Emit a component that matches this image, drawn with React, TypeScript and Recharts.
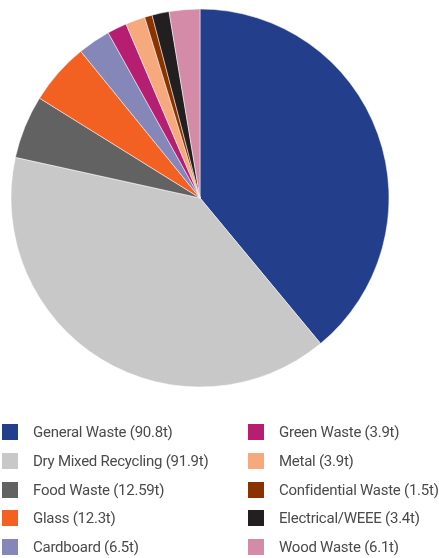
import { PieChart, Pie, Cell } from 'recharts';

const categories = [
  'General Waste',
  'Dry Mixed Recycling',
  'Food Waste',
  'Glass',
  'Cardboard',
  'Green Waste',
  'Metal',
  'Confidential Waste',
  'Electrical/WEEE',
  'Wood Waste',
];
const tonnes = [90.8, 91.9, 12.59, 12.3, 6.5, 3.9, 3.9, 1.5, 3.4, 6.1];
const colors = [
  '#233e8b',
  '#c8c8c9',
  '#626263',
  '#f26122',
  '#8587b8',
  '#b51e71',
  '#f6a97d',
  '#8b3300',
  '#231f20',
  '#d48ba8',
];

const data = categories.map((name, i) => ({ name, value: tonnes[i] }));

function LegendItem({ i }: { i: number }) {
  return (
    <div style={{ display: 'flex', alignItems: 'center', height: 28.7 }}>
      <div style={{ width: 16, height: 16, background: colors[i], marginRight: 15, flexShrink: 0 }} />
      <span>{`${categories[i]} (${tonnes[i]}t)`}</span>
    </div>
  );
}

export default function App() {
  const left = [0, 1, 2, 3, 4];
  const right = [5, 6, 7, 8, 9];
  return (
    <div style={{ position: 'fixed', left: 0, top: 0, width: 439, height: 558, background: '#fff' }}>
      <PieChart width={439} height={400} margin={{ top: 0, right: 0, bottom: 0, left: 0 }}>
        <Pie
          data={data}
          dataKey="value"
          cx={200}
          cy={198}
          outerRadius={189}
          startAngle={90}
          endAngle={-270}
          stroke="#ffffff"
          strokeWidth={0.5}
          isAnimationActive={false}
        >
          {data.map((d, i) => (
            <Cell key={d.name} fill={colors[i]} />
          ))}
        </Pie>
      </PieChart>
      <div
        style={{
          position: 'absolute',
          top: 418,
          left: 2,
          display: 'flex',
          fontFamily: 'Roboto, sans-serif',
          fontSize: 15,
          color: '#4a4a4a',
          letterSpacing: -0.25,
        }}
      >
        <div style={{ width: 246 }}>
          {left.map((i) => (
            <LegendItem key={i} i={i} />
          ))}
        </div>
        <div>
          {right.map((i) => (
            <LegendItem key={i} i={i} />
          ))}
        </div>
      </div>
    </div>
  );
}
